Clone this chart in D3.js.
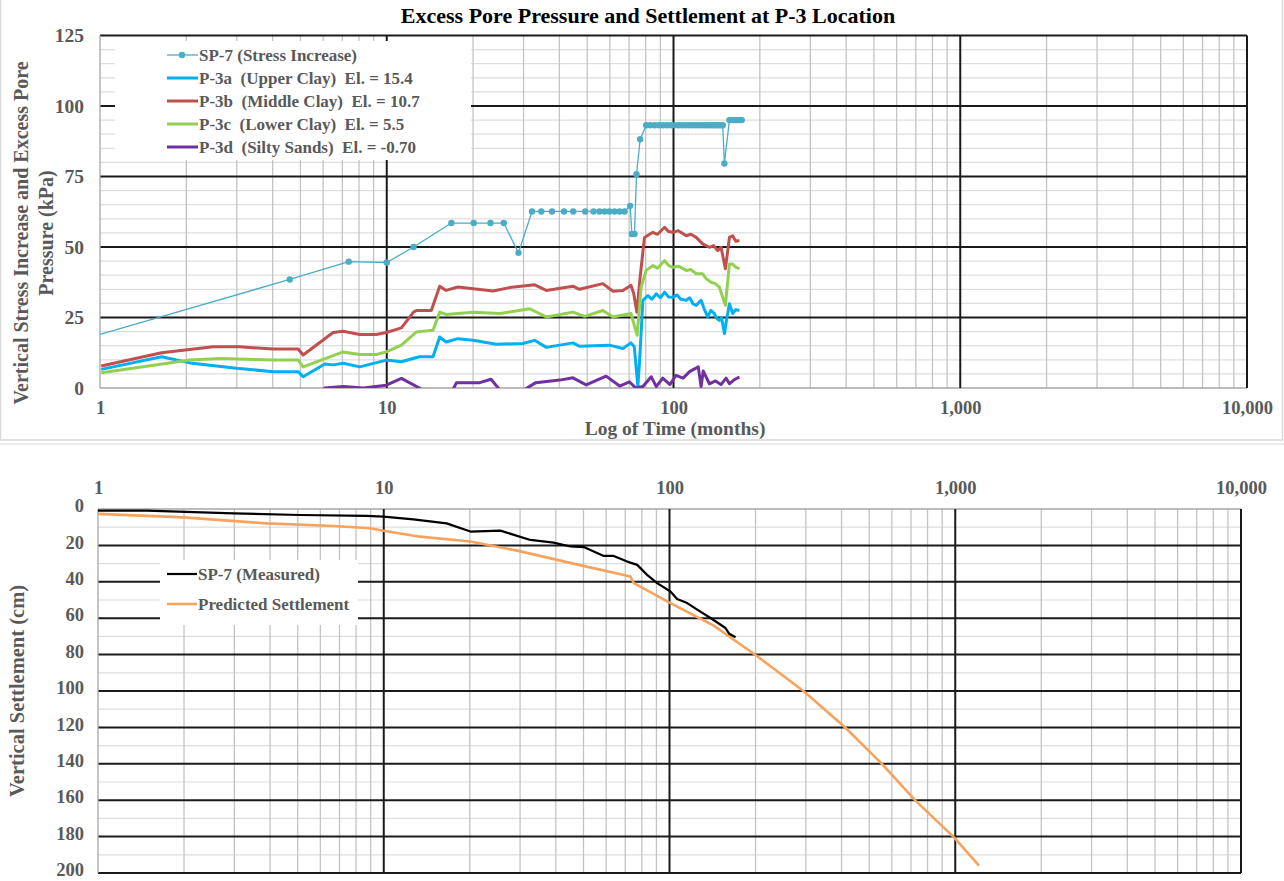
<!DOCTYPE html>
<html>
<head>
<meta charset="utf-8">
<script src="https://cdn.jsdelivr.net/npm/d3@7"></script>
<style>
  body { margin: 0; background: #fff; }
  svg text { font-family: "Liberation Serif", "Times New Roman", serif; font-weight: bold; }
</style>
</head>
<body>
<div id="chart"></div>
<script>
// ---- data (time in months) ----
const spStress = [[1,19],[4.59,38.5],[7.37,44.8],[10,44.5],[12.4,50],[16.8,58.5],[20.1,58.5],[23.0,58.5],[25.6,58.5],[28.8,47.9],
  [32.1,62.6],[34.6,62.6],[37.7,62.6],[41.5,62.6],[44.7,62.6],[49.2,62.6],[52.6,62.6],[55.2,62.6],[57.5,62.6],[59.8,62.6],[62.3,62.6],[64.9,62.6],[67.5,62.6],
  [70.6,64.6],[71.6,54.6],[73.1,54.6],[74.3,75.8],[76.5,88.2],[80.3,93.2],[83,93.2],[86,93.2],[89,93.2],[92,93.2],[95,93.2],[98,93.2],[101,93.2],[104,93.2],
  [107,93.2],[110,93.2],[113,93.2],[116,93.2],[119,93.2],[122,93.2],[125,93.2],[128,93.2],[131,93.2],[134,93.2],[137,93.2],[140,93.2],[143,93.2],[146,93.2],
  [148.5,93.2],[150.5,79.6],[156.7,95],[159,95],[162,95],[165,95],[168,95],[171,95],[173,95]];

const p3a = [[1.01,6.6],[1.64,11.1],[2.06,8.9],[2.99,7.0],[4.02,5.8],[4.91,5.8],[5.11,4.0],[6.08,8.5],[6.5,8.2],[7.05,8.8],[8.05,7.5],[9.97,9.9],
  [11.25,9.3],[13.0,11.1],[14.5,11.1],[15.3,18.1],[16.1,16.3],[17.7,17.5],[20,16.9],[24.1,15.5],[29.8,15.8],[32.8,16.9],[36,14.4],[44.6,16.0],[47,14.8],
  [59.8,15.2],[66.6,14.0],[71.1,16.0],[73,14.6],[75.1,0.5],[76.2,9.9],[78.2,31.1],[81.4,32.8],[84,31.5],[87.1,33.4],[90,32.0],[93.1,34.0],[96,32.3],
  [99.5,32.2],[103,33.0],[106,31.5],[110.8,31.1],[114,32.0],[117,29.8],[120,29.3],[124.8,31.1],[128,28.0],[131.6,25.2],[135,27.5],[138.9,26.4],[141,24.8],
  [144.5,24.0],[147,25.0],[150.6,19.3],[153,24],[156.7,29.9],[160.8,26.4],[165,27.8],[169.8,27.5]];

const p3b = [[1.01,7.8],[1.64,12.5],[2.48,14.6],[3.07,14.6],[4.02,13.8],[4.91,13.8],[5.11,11.7],[6.5,19.7],[7.05,20.1],[8.05,19.0],[9.2,19.0],[9.97,19.7],
  [11.25,21.3],[12.4,26.9],[12.7,27.5],[14.3,27.5],[15.3,36.1],[16.1,34.6],[17.7,35.8],[23.5,34.4],[26.8,35.6],[32.8,36.6],[36,34.6],[44.6,36.1],[47,35.0],
  [56.7,37.0],[61.5,34.3],[66.6,34.6],[71.1,36.4],[72.7,33.4],[74.5,26.9],[76.5,39.3],[79.2,53.4],[84.7,55.2],[88,54.5],[93.1,57.0],[96,55.5],[99.5,55.2],
  [104,55.8],[110.8,54.0],[115,54.5],[120,53.4],[126.4,51.1],[133.4,49.9],[138,50.5],[142.6,48.7],[146.5,49.9],[151.7,42.3],[156.7,53.4],[160.8,54.0],
  [165,52.0],[169.8,52.3]];

const p3c = [[1.01,5.4],[2.06,9.9],[2.62,10.5],[4.02,9.9],[4.91,9.9],[5.11,7.5],[7.05,12.8],[8.05,11.9],[9.2,11.9],[9.97,12.8],[11.25,15.2],[12.7,19.9],
  [14.5,20.5],[15.3,26.9],[16.1,26.1],[20,26.9],[24.8,26.4],[31.5,28.1],[36,25.2],[44.6,26.9],[49,25.4],[56.7,27.5],[61.5,25.2],[71.1,26.4],[72.7,22.8],
  [74.7,18.7],[77.1,35.8],[80.3,41.7],[84.7,43.4],[88,42.5],[93.1,45.2],[96,43.5],[99.5,42.8],[104,43.2],[110.8,41.7],[115,42.0],[120,40.5],[126.4,40.5],
  [130,38.8],[135.2,37.5],[140,37.0],[144.5,35.8],[151.7,29.3],[156.7,44.0],[160.8,44.0],[165,42.8],[169.8,42.3]];

const p3d = [[6,-1],[6.08,0],[7.05,0.5],[8.3,0],[9.97,1.0],[11.25,3.4],[13,0],[14,-3],[16,-3],[17,-0.7],[17.5,1.9],[21.1,1.9],[23.1,3.1],[24.8,-0.7],
  [27,-3],[29,-3],[30.3,-0.5],[33.1,1.9],[40.1,2.8],[44.6,3.6],[49.6,1.1],[58.2,4.2],[64.9,0.7],[70.2,2.2],[73.8,0],[78.2,0.5],[83.6,4.0],[87.1,0.5],
  [91.7,3.5],[97.2,1.2],[102,4.5],[108,3.5],[113.8,5.8],[122,7.5],[124.8,0.5],[127,6],[133.4,1.5],[140,2.5],[146.5,1.2],[152.5,3.5],[156.7,1.5],
  [163,3.0],[169.8,3.9]];

const measured = [[1,0.9],[1.48,0.9],[2.98,2.4],[5.1,3.3],[8.7,3.8],[9.97,4.2],[12.7,5.7],[16.6,7.9],[20.1,12.4],[25.6,11.9],[32.6,17.0],[39.3,18.5],
  [45,20.6],[50.1,20.9],[58.9,25.8],[63.8,25.8],[71.1,28.9],[77.1,30.7],[83.5,36.2],[90.5,40.7],[100.8,45.3],[106.3,49.5],[115.3,51.7],[125,55.3],
  [139.2,59.9],[157,65.4],[161.7,68.5],[170.3,70.5]];

const predicted = [[1,2.7],[1.99,4.6],[3.9,7.9],[6.67,9.3],[8.97,10.6],[9.97,11.9],[13.4,15.2],[20.1,17.9],[29.6,23.0],[48.1,30.7],[73,37.1],[75,40.7],
  [100.8,51.7],[142.8,64.1],[202.8,80.9],[295,100.1],[413,120.2],[556,140.3],[727,160.4],[990,180.4],[1211,196]];

const topYTicks = [0, 25, 50, 75, 100, 125];
const botYTicks = [0, 20, 40, 60, 80, 100, 120, 140, 160, 180, 200];
const timeTicks = [1, 10, 100, 1000, 10000];

const topSeries = [
  { name: "SP-7 (Stress Increase)", data: spStress, color: "#4bacc6", width: 1.3, dots: true },
  { name: "P-3a  (Upper Clay)  El. = 15.4", data: p3a, color: "#00b0f0", width: 3 },
  { name: "P-3b  (Middle Clay)  El. = 10.7", data: p3b, color: "#c0504d", width: 3 },
  { name: "P-3c  (Lower Clay)  El. = 5.5", data: p3c, color: "#92d050", width: 3 },
  { name: "P-3d  (Silty Sands)  El. = -0.70", data: p3d, color: "#7030a0", width: 3 }
];
const botSeries = [
  { name: "SP-7 (Measured)", data: measured, color: "#000000", width: 2.2 },
  { name: "Predicted Settlement", data: predicted, color: "#f5a35e", width: 2.6 }
];

const W = 1284, H = 881;
const labelColor = "#595959";
const fmt = d3.format(",");

const svg = d3.select("#chart").append("svg")
  .attr("width", W).attr("height", H);
svg.append("rect").attr("width", W).attr("height", H).attr("fill", "#fff");

// top chart border + separator
svg.append("rect").attr("x", 0.5).attr("y", -2).attr("width", 1282).attr("height", 442)
  .attr("fill", "none").attr("stroke", "#d9d9d9").attr("stroke-width", 1.5);
svg.append("line").attr("x1", 0).attr("x2", W).attr("y1", 444).attr("y2", 444)
  .attr("stroke", "#e3e3e3").attr("stroke-width", 1.5);

// scales
const xTop = d3.scaleLog().domain([1, 10000]).range([100, 1247]);
const yTop = d3.scaleLinear().domain([0, 125]).range([388, 35.5]);
const xBot = d3.scaleLog().domain([1, 10000]).range([98, 1241]);
const yBot = d3.scaleLinear().domain([0, 200]).range([509, 873]);

function isDecade(v) { return Math.abs(Math.log10(v) - Math.round(Math.log10(v))) < 1e-9; }

function drawGrid(g, x, y, minorStep, majorStep) {
  const [x0, x1] = x.range();
  const [ya, yb] = y.range();
  const yTopPx = Math.min(ya, yb), yBotPx = Math.max(ya, yb);
  const yDom = y.domain();
  const hMinor = d3.range(yDom[0], yDom[1] + 0.001, minorStep).filter(v => v % majorStep !== 0);
  const hMajor = d3.range(yDom[0], yDom[1] + 0.001, majorStep);
  g.selectAll(".hmin").data(hMinor).enter().append("line")
    .attr("x1", x0).attr("x2", x1).attr("y1", d => y(d)).attr("y2", d => y(d))
    .attr("stroke", "#dedede").attr("stroke-width", 1.2);
  const vTicks = x.ticks();
  g.selectAll(".vmin").data(vTicks.filter(v => !isDecade(v))).enter().append("line")
    .attr("x1", d => x(d)).attr("x2", d => x(d)).attr("y1", yTopPx).attr("y2", yBotPx)
    .attr("stroke", "#c4c4c4").attr("stroke-width", 1.3);
  // axis-edge lines (gray), other majors black
  g.selectAll(".hmaj").data(hMajor).enter().append("line")
    .attr("x1", x0).attr("x2", x1).attr("y1", d => y(d)).attr("y2", d => y(d))
    .attr("stroke", d => d === 0 ? "#a6a6a6" : "#1a1a1a").attr("stroke-width", d => d === 0 ? 1.3 : 2);
  g.selectAll(".vmaj").data(vTicks.filter(isDecade)).enter().append("line")
    .attr("x1", d => x(d)).attr("x2", d => x(d)).attr("y1", yTopPx).attr("y2", yBotPx)
    .attr("stroke", d => d === 1 ? "#a6a6a6" : "#1a1a1a").attr("stroke-width", d => d === 1 ? 1.3 : 2);
}

function clip(id, x, y) {
  const [x0, x1] = x.range();
  const ys = y.range();
  svg.append("clipPath").attr("id", id).append("rect")
    .attr("x", x0).attr("y", Math.min(...ys)).attr("width", x1 - x0).attr("height", Math.abs(ys[1] - ys[0]));
}

// ---------- top chart ----------
const gTop = svg.append("g");
drawGrid(gTop, xTop, yTop, 5, 25);
clip("clipTop", xTop, yTop);

// legend box (drawn over grid, under data)
gTop.append("rect").attr("x", 115).attr("y", 41).attr("width", 356).attr("height", 119).attr("fill", "#fff");

const lineTop = d3.line().x(d => xTop(d[0])).y(d => yTop(d[1]));
const topPlot = gTop.append("g").attr("clip-path", "url(#clipTop)");
topSeries.slice(1).concat(topSeries.slice(0, 1)).forEach(s => {
  topPlot.append("path").datum(s.data)
    .attr("d", lineTop).attr("fill", "none")
    .attr("stroke", s.color).attr("stroke-width", s.width).attr("stroke-linejoin", "round");
  if (s.dots) {
    topPlot.selectAll(null).data(s.data.filter(d => d[0] > 1)).enter().append("circle")
      .attr("cx", d => xTop(d[0])).attr("cy", d => yTop(d[1])).attr("r", 3.2)
      .attr("fill", s.color);
  }
});

// axes labels
gTop.append("g").attr("transform", "translate(84,0)")
  .call(d3.axisLeft(yTop).tickValues(topYTicks).tickSize(0).tickPadding(0))
  .call(a => a.select(".domain").remove())
  .selectAll("text").attr("font-size", 19.5).attr("fill", labelColor).attr("font-family", null);
gTop.append("g").attr("transform", "translate(0,401)")
  .call(d3.axisBottom(xTop).tickValues(timeTicks).tickFormat(fmt).tickSize(0).tickPadding(0))
  .call(a => a.select(".domain").remove())
  .selectAll("text").attr("font-size", 18.5).attr("fill", labelColor).attr("font-family", null);

svg.append("text").attr("x", 675).attr("y", 435).attr("text-anchor", "middle")
  .attr("font-size", 19.5).attr("fill", labelColor).text("Log of Time (months)");
svg.append("text").attr("x", 648).attr("y", 23).attr("text-anchor", "middle")
  .attr("font-size", 22).attr("fill", "#000").text("Excess Pore Pressure and Settlement at P-3 Location");

const yTitle = svg.append("text").attr("transform", "translate(0,233) rotate(-90)")
  .attr("text-anchor", "middle").attr("font-size", 20).attr("fill", labelColor);
yTitle.append("tspan").attr("x", 0).attr("y", 28).text("Vertical Stress Increase and Excess Pore");
yTitle.append("tspan").attr("x", 0).attr("y", 53).text("Pressure (kPa)");

// top legend
const legTop = gTop.append("g");
topSeries.forEach((s, i) => {
  const y = 55 + i * 23;
  legTop.append("line").attr("x1", 167).attr("x2", 198).attr("y1", y).attr("y2", y)
    .attr("stroke", s.color).attr("stroke-width", s.dots ? 1.3 : 3);
  if (s.dots) legTop.append("circle").attr("cx", 182).attr("cy", y).attr("r", 3.2).attr("fill", s.color);
  legTop.append("text").attr("x", 199).attr("y", y).attr("dy", "0.35em")
    .attr("font-size", 17).attr("fill", labelColor).attr("xml:space", "preserve").text(s.name);
});

// ---------- bottom chart ----------
const gBot = svg.append("g");
drawGrid(gBot, xBot, yBot, 10, 20);
clip("clipBot", xBot, yBot);
gBot.append("rect").attr("x", 160).attr("y", 560).attr("width", 198).attr("height", 65).attr("fill", "#fff");

const lineBot = d3.line().x(d => xBot(d[0])).y(d => yBot(d[1]));
const botPlot = gBot.append("g").attr("clip-path", "url(#clipBot)");
botSeries.slice().reverse().forEach(s => {
  botPlot.append("path").datum(s.data)
    .attr("d", lineBot).attr("fill", "none")
    .attr("stroke", s.color).attr("stroke-width", s.width).attr("stroke-linejoin", "round");
});

gBot.append("g").attr("transform", "translate(84,0)")
  .call(d3.axisLeft(yBot).tickValues(botYTicks).tickSize(0).tickPadding(0))
  .call(a => a.select(".domain").remove())
  .selectAll("text").attr("font-size", 18.5).attr("fill", labelColor).attr("font-family", null)
  .attr("dy", "0.15em");
gBot.append("g").attr("transform", "translate(0,494)")
  .call(d3.axisTop(xBot).tickValues(timeTicks).tickFormat(fmt).tickSize(0).tickPadding(0))
  .call(a => a.select(".domain").remove())
  .selectAll("text").attr("font-size", 18.5).attr("fill", labelColor).attr("font-family", null);

svg.append("text").attr("transform", "translate(24,691) rotate(-90)")
  .attr("text-anchor", "middle").attr("font-size", 20.5).attr("fill", labelColor)
  .text("Vertical Settlement (cm)");

const legBot = gBot.append("g");
botSeries.forEach((s, i) => {
  const y = 574 + i * 30;
  legBot.append("line").attr("x1", 167).attr("x2", 197).attr("y1", y).attr("y2", y)
    .attr("stroke", s.color).attr("stroke-width", s.width);
  legBot.append("text").attr("x", 198).attr("y", y).attr("dy", "0.35em")
    .attr("font-size", 17).attr("fill", labelColor).text(s.name);
});
</script>
</body>
</html>
